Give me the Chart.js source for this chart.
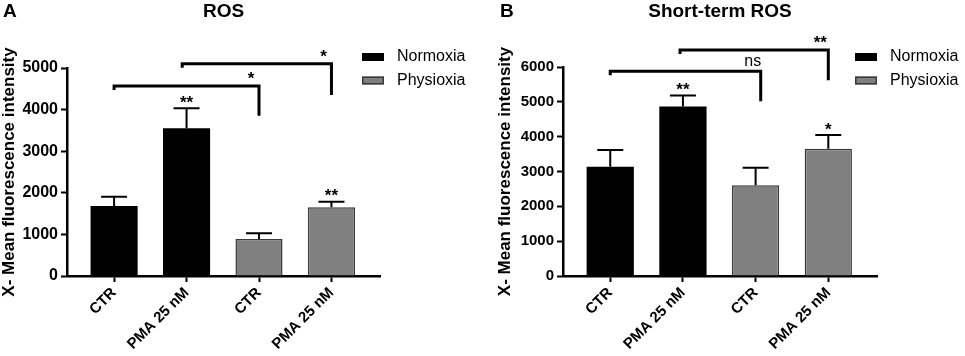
<!DOCTYPE html>
<html><head><meta charset="utf-8">
<script src="https://cdn.jsdelivr.net/npm/chart.js@4.4.0/dist/chart.umd.min.js"></script>
<style>
html,body{margin:0;padding:0;background:#fff;}
#wrap{position:relative;width:965px;height:356px;overflow:hidden;background:#fff;}
.panel{position:absolute;top:0;height:356px;}
</style></head><body>
<div id="wrap">
<div class="panel" style="left:0;width:482px"><canvas id="cA"></canvas></div>
<div class="panel" style="left:482px;width:483px"><canvas id="cB"></canvas></div>
</div>
<script>
const categories = ['CTR', 'PMA 25 nM', 'CTR', 'PMA 25 nM'];
const seriesNames = ['Normoxia', 'Physioxia'];
const yTitle = 'X- Mean fluorescence intensity';

// Panel A: ROS
const rosNormoxia = [1680, 3550];
const rosNormoxiaErr = [225, 480];
const rosPhysioxia = [890, 1650];
const rosPhysioxiaErr = [135, 135];
const rosMarks = ['', '**', '', '**'];
const rosTicks = [0, 1000, 2000, 3000, 4000, 5000];
const rosBrackets = [
  {from: 0, to: 2, level: 4570, end: 3850, text: '*'},
  {from: 0.94, to: 3, level: 5100, end: 4350, text: '*'}
];

// Panel B: Short-term ROS
const stNormoxia = [3135, 4865];
const stNormoxiaErr = [480, 320];
const stPhysioxia = [2605, 3655];
const stPhysioxiaErr = [500, 390];
const stMarks = ['', '**', '', '*'];
const stTicks = [0, 1000, 2000, 3000, 4000, 5000, 6000];
const stBrackets = [
  {from: 0, to: 2.07, level: 5880, end: 5020, text: 'ns'},
  {from: 0.96, to: 3, level: 6490, end: 5620, text: '**'}
];

const FONT = "'Liberation Sans', Arial, sans-serif";
Chart.defaults.font.family = FONT;
Chart.defaults.color = '#000';

function drawCentered(ctx, text, x, cy) {
  ctx.textAlign = 'center';
  ctx.textBaseline = 'alphabetic';
  const m = ctx.measureText(text);
  ctx.fillText(text, x, cy + (m.actualBoundingBoxAscent - m.actualBoundingBoxDescent) / 2);
}

const annot = {
  id: 'annot',
  afterDatasetsDraw(chart, args, o) {
    const ctx = chart.ctx, xs = chart.scales.x, ys = chart.scales.y;
    ctx.save();
    ctx.strokeStyle = '#000';
    ctx.fillStyle = '#000';
    chart.data.datasets.forEach((ds, di) => {
      const meta = chart.getDatasetMeta(di);
      ds.errors.forEach((e, i) => {
        const bar = meta.data[i];
        const pt = ds.data[i];
        const x = bar.x;
        const y0 = ys.getPixelForValue(pt.y);
        const y1 = ys.getPixelForValue(pt.y + e);
        ctx.lineWidth = 2;
        ctx.lineCap = 'butt';
        ctx.beginPath();
        ctx.moveTo(x, y0); ctx.lineTo(x, y1);
        ctx.moveTo(x - 13, y1); ctx.lineTo(x + 13, y1);
        ctx.stroke();
        const mark = o.marks[pt.x];
        if (mark) {
          ctx.font = 'bold 17px ' + FONT;
          drawCentered(ctx, mark, x, y1 - 9);
        }
      });
    });
    o.brackets.forEach(b => {
      const x1 = xs.getPixelForValue(b.from), x2 = xs.getPixelForValue(b.to);
      const yl = ys.getPixelForValue(b.level), ye = ys.getPixelForValue(b.end);
      ctx.lineWidth = 3;
      ctx.lineJoin = 'miter';
      ctx.beginPath();
      ctx.moveTo(x1, yl + 4); ctx.lineTo(x1, yl); ctx.lineTo(x2, yl); ctx.lineTo(x2, ye);
      ctx.stroke();
      ctx.font = (b.text === 'ns' ? 'normal 16px ' : 'bold 17px ') + FONT;
      drawCentered(ctx, b.text, x2 - 8, yl - 10);
    });
    ctx.restore();
  },
  afterDraw(chart, args, o) {
    const ctx = chart.ctx, ca = chart.chartArea;
    ctx.save();
    ctx.fillStyle = '#000';
    ctx.font = 'bold 19px ' + FONT;
    ctx.textAlign = 'left';
    ctx.textBaseline = 'middle';
    ctx.fillText(o.letter, o.letterX, 12);
    ctx.textAlign = 'center';
    ctx.fillText(o.title, (ca.left + ca.right) / 2, 12);
    // legend
    chart.data.datasets.forEach((ds, i) => {
      const cy = 57 + i * 23.5;
      ctx.fillStyle = ds.backgroundColor;
      ctx.fillRect(o.legendX, cy - 4, 22, 8);
      if (ds.borderWidth) {
        ctx.strokeStyle = ds.borderColor;
        ctx.lineWidth = 1.5;
        ctx.strokeRect(o.legendX + 0.75, cy - 3.25, 20.5, 6.5);
      }
      ctx.fillStyle = '#000';
      ctx.font = 'normal 16px ' + FONT;
      ctx.textAlign = 'left';
      ctx.textBaseline = 'middle';
      ctx.fillText(ds.label, o.legendX + 35, cy);
    });
    ctx.restore();
  }
};

function makeChart(id, cfg) {
  const datasets = [
    {label: seriesNames[0], data: cfg.norm.map((v, i) => ({x: i, y: v})), errors: cfg.normErr,
     backgroundColor: '#000000', borderWidth: 0},
    {label: seriesNames[1], data: cfg.phys.map((v, i) => ({x: i + 2, y: v})), errors: cfg.physErr,
     backgroundColor: '#808080', borderColor: '#3a3a3a', borderWidth: 1.5}
  ];
  return new Chart(document.getElementById(id), {
    type: 'bar',
    data: {datasets},
    plugins: [annot],
    options: {
      responsive: true, maintainAspectRatio: false, animation: false,
      devicePixelRatio: 1,
      grouped: false,
      barPercentage: 0.65, categoryPercentage: 1,
      layout: {padding: {top: cfg.padTop, right: cfg.padRight, left: 0, bottom: 0}},
      plugins: {
        legend: {display: false}, tooltip: {enabled: false},
        annot: {marks: cfg.marks, brackets: cfg.brackets, letter: cfg.letter, letterX: cfg.letterX,
                title: cfg.title, legendX: cfg.legendX}
      },
      scales: {
        x: {
          type: 'linear', min: -0.65, max: 3.67, bounds: 'data', offset: false,
          afterBuildTicks: s => { s.ticks = categories.map((c, i) => ({value: i})); },
          afterFit: s => { s.height = 80; },
          grid: {offset: false, drawOnChartArea: false, drawTicks: true, tickLength: 6, tickWidth: 2, tickColor: '#000'},
          border: {display: true, color: '#000', width: 2.5},
          ticks: {autoSkip: false, maxRotation: 45, minRotation: 45, padding: 2,
                  font: {size: cfg.xFont, weight: 'bold'}, color: '#000',
                  callback: v => categories[v]}
        },
        y: {
          min: 0, max: cfg.ticks[cfg.ticks.length - 1],
          afterBuildTicks: s => { s.ticks = cfg.ticks.map(v => ({value: v})); },
          afterFit: s => { s.width = cfg.axisW; },
          grid: {drawOnChartArea: false, drawTicks: true, tickLength: 6, tickWidth: 2, tickColor: '#000'},
          border: {display: true, color: '#000', width: 2.5},
          ticks: {padding: 3, font: {size: cfg.yFont, weight: 'bold'}, color: '#000', callback: v => String(v)},
          title: {display: true, text: yTitle, color: '#000', font: {size: 17, weight: 'bold'},
                  padding: {top: cfg.titlePad, bottom: 0}}
        }
      }
    }
  });
}

makeChart('cA', {norm: rosNormoxia, normErr: rosNormoxiaErr, phys: rosPhysioxia, physErr: rosPhysioxiaErr,
  marks: rosMarks, brackets: rosBrackets, ticks: rosTicks, letter: 'A', letterX: 3, title: 'ROS',
  legendX: 362, padRight: 102, padTop: 68, axisW: 67, titlePad: -1, xFont: 15, yFont: 16});
makeChart('cB', {norm: stNormoxia, normErr: stNormoxiaErr, phys: stPhysioxia, physErr: stPhysioxiaErr,
  marks: stMarks, brackets: stBrackets, ticks: stTicks, letter: 'B', letterX: 18, title: 'Short-term ROS',
  legendX: 373, padRight: 88, padTop: 67, axisW: 81, titlePad: 13, xFont: 15, yFont: 15});
</script>
</body></html>
